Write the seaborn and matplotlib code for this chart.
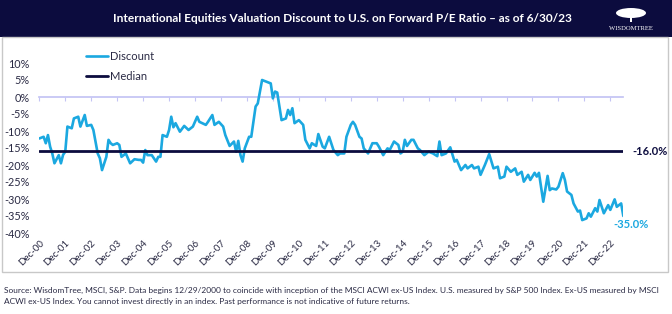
import matplotlib
matplotlib.use("Agg")
import matplotlib.pyplot as plt
from matplotlib.patches import Rectangle, Ellipse
import seaborn as sns
import pandas as pd

# ---------------- data ----------------
# months elapsed since Dec-2000 (0 = Dec-00, 270 = Jun-23)
month_index = [0, 2, 3, 4, 5, 6, 7, 9, 10, 11, 12, 13, 15, 16, 18, 19, 21, 22, 24, 25,
               27, 28, 29, 31, 32, 33, 34, 36, 37, 38, 40, 42, 44, 46, 47, 48, 49, 50, 52, 54,
               55, 56, 57, 59, 60, 61, 62, 63, 65, 67, 69, 71, 73, 74, 77, 78, 80, 81, 83, 85,
               86, 88, 90, 91, 92, 93, 94, 95, 97, 98, 100, 101, 103, 105, 107, 108, 109, 110, 112, 114,
               115, 116, 117, 118, 120, 122, 123, 125, 126, 128, 129, 131, 132, 134, 136, 138, 139, 141, 142, 144,
               145, 146, 148, 149, 150, 152, 154, 156, 157, 159, 161, 162, 164, 166, 167, 168, 169, 170, 172, 173,
               175, 176, 178, 180, 182, 184, 185, 186, 188, 190, 192, 193, 195, 197, 198, 200, 201, 203, 204, 206,
               208, 210, 212, 213, 215, 216, 218, 220, 221, 223, 224, 226, 227, 229, 230, 231, 233, 235, 236, 237,
               239, 240, 242, 243, 244, 246, 247, 249, 250, 251, 253, 254, 255, 257, 258, 259, 261, 263, 264, 266,
               267, 269, 270]
discount = [-12.2, -11.7, -13.6, -11.2, -14.6, -16.6, -19.5, -17.1, -19.5, -17.0, -16.1, -8.7, -9.2, -6.3, -5.8, -8.7, -5.3, -8.5, -8.2, -9.7,
            -16.6, -18.0, -21.5, -17.6, -12.6, -13.6, -14.1, -13.6, -14.1, -17.6, -16.6, -19.5, -18.3, -18.5, -18.5, -19.3, -15.6, -17.1, -17.1, -19.0,
            -17.6, -17.6, -11.2, -11.7, -9.7, -5.8, -8.9, -7.7, -10.2, -8.5, -9.7, -8.7, -5.8, -7.3, -8.2, -7.3, -5.3, -8.2, -7.3, -8.7,
            -11.2, -14.4, -13.1, -16.1, -12.9, -17.1, -19.0, -15.1, -11.7, -11.7, -2.8, -1.9, 5.0, 4.5, 4.0, -0.4, 1.6, 1.3, -6.8, -6.3,
            -3.8, -5.3, -3.3, -7.7, -6.8, -8.2, -12.6, -15.1, -13.6, -14.4, -10.9, -14.6, -15.1, -11.7, -15.6, -17.1, -16.6, -16.6, -11.7, -8.2,
            -7.3, -8.2, -11.7, -12.2, -15.1, -16.6, -13.6, -13.6, -14.6, -17.1, -15.1, -15.6, -13.1, -14.1, -16.6, -16.1, -12.6, -14.4, -12.6, -12.6,
            -15.1, -15.6, -17.1, -16.1, -16.6, -17.4, -13.1, -17.1, -16.6, -14.8, -19.0, -18.5, -21.5, -20.0, -21.0, -20.0, -21.0, -20.5, -22.9, -20.0,
            -16.8, -21.0, -20.5, -23.9, -23.4, -20.5, -22.0, -21.0, -22.9, -22.0, -24.9, -22.9, -24.4, -22.3, -23.4, -22.3, -30.8, -23.2, -27.4, -26.9,
            -27.2, -26.4, -22.4, -24.4, -27.8, -28.8, -31.3, -33.7, -33.4, -36.2, -35.7, -34.2, -35.2, -32.7, -33.7, -30.3, -34.2, -31.8, -33.2, -30.1,
            -32.3, -31.3, -35.0]
median_value = -16.0
tick_months = list(range(0, 265, 12))
tick_labels = ["Dec-%02d" % y for y in range(0, 23)]
y_ticks = list(range(-40, 11, 5))
y_labels = ["%d%%" % v for v in y_ticks]

title = "International Equities Valuation Discount to U.S. on Forward P/E Ratio \u2013 as of 6/30/23"
source = ("Source: WisdomTree, MSCI, S&P. Data begins 12/29/2000 to coincide with inception of the MSCI ACWI ex-US Index. U.S. measured by S&P 500 Index. Ex-US measured by MSCI\n"
          "ACWI ex-US Index. You cannot invest directly in an index. Past performance is not indicative of future returns.")

# ---------------- style ----------------
sns.set_theme(style="white")
plt.rcParams['font.family'] = ['Lato', 'DejaVu Sans']

BLUE = "#1ba8e0"
NAVY = "#0c0c3e"
TXT = "#2a2a44"

W, H = 672, 314
fx = lambda px: px / W
fy = lambda py: 1 - py / H

fig = plt.figure(figsize=(6.72, 3.14), dpi=100)
fig.patch.set_facecolor("white")

# header bar
fig.add_artist(Rectangle((0, fy(37)), 1, 37 / H, transform=fig.transFigure,
                         facecolor=NAVY, edgecolor="none", zorder=0))
fig.text(fx(342), fy(19), title, color="white", fontsize=8.6, fontweight="bold",
         ha="center", va="center")
# logo
fig.add_artist(Ellipse((fx(631), fy(13)), 30 / W, 10 / H, transform=fig.transFigure,
                       facecolor="white", edgecolor="none"))
fig.add_artist(Rectangle((fx(630), fy(22)), 2 / W, 5 / H, transform=fig.transFigure,
                         facecolor="white", edgecolor="none"))
fig.text(fx(631), fy(28), "WISDOMTREE", color="white", fontsize=4.8,
         family="Liberation Serif", ha="center", va="center")

# chart box
fig.add_artist(Rectangle((fx(2), fy(272)), fx(668) - fx(2), (272 - 37) / H,
                         transform=fig.transFigure, fill=False, edgecolor="#c8c8c8", lw=1))

ax = fig.add_axes([fx(39.3), fy(233), fx(623.3) - fx(39.3), (233 - 63) / H])
df = pd.DataFrame({"month": month_index, "Discount": discount})
sns.lineplot(data=df, x="month", y="Discount", ax=ax, color=BLUE, lw=1.9, label="Discount")
ax.axhline(median_value, color=NAVY, lw=2.0, label="Median", zorder=3)

ax.set_xlim(0, 270)
ax.set_ylim(-40, 10)
ax.set_xlabel("")
ax.set_ylabel("")
for s in ax.spines.values():
    s.set_visible(False)

ax.set_yticks(y_ticks, labels=y_labels)
ax.tick_params(axis="y", length=0, pad=7, labelsize=7.8, labelcolor=TXT)
ax.set_xticks(tick_months, labels=tick_labels)
ax.tick_params(axis="x", length=0, pad=4, labelsize=7, labelcolor=TXT)
for lab in ax.get_xticklabels():
    lab.set_rotation(45)
    lab.set_ha("right")
    lab.set_rotation_mode("anchor")

# zero line axis with ticks
zero_pos = (0 - (-40)) / 50
sec = ax.secondary_xaxis(zero_pos)
sec.set_xticks(tick_months, labels=[])
sec.spines["top"].set_color("#c4c4f4")
sec.spines["bottom"].set_visible(False)
sec.tick_params(axis="x", direction="in", length=3, width=0.8, color="#c4c4f4",
                labeltop=False, labelbottom=False)
sec.set_zorder(1)

ax.annotate("%.1f%%" % median_value, xy=(month_index[-1], median_value), xytext=(6.5, 0),
            textcoords="offset points", ha="left", va="center", fontsize=8,
            fontweight="bold", color=NAVY, annotation_clip=False)
ax.annotate("%.1f%%" % discount[-1], xy=(month_index[-1], discount[-1]), xytext=(5.5, -6),
            textcoords="offset points", ha="center", va="center", fontsize=8,
            fontweight="bold", color=BLUE, annotation_clip=False)

ax.legend(loc="upper left", bbox_to_anchor=(fx(86), fy(51)), bbox_transform=fig.transFigure,
          frameon=False, fontsize=8, handlelength=2.0, handletextpad=0.15,
          labelspacing=0.8, borderaxespad=0, borderpad=0, labelcolor=TXT)

fig.text(fx(4), fy(296), source, fontsize=6, color=TXT, ha="left", va="center",
         linespacing=1.7)

fig.savefig("out.png", dpi=100)
